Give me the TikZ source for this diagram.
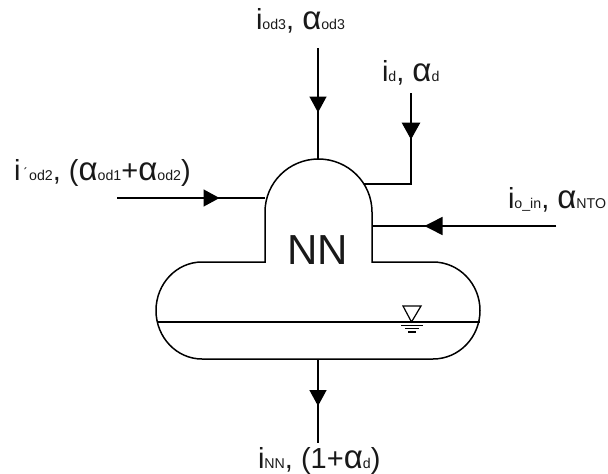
\documentclass[tikz,border=0pt]{standalone}
\usepackage{fontspec}
\setmainfont{Liberation Sans}
\usetikzlibrary{arrows.meta}
\newcommand{\bigT}[1]{{\fontsize{29}{29}\selectfont #1}}
\newcommand{\alfa}{{\fontsize{33}{33}\selectfont α}}
\newcommand{\subT}[1]{{\fontsize{14.2}{14.2}\selectfont #1}}
\tikzset{
  x=1pt,y=-1pt,
  pipe/.style={line width=1.5pt,draw=black},
  thin pipe/.style={line width=1.2pt,draw=black},
  lbl/.style={anchor=base west,inner sep=0pt,outer sep=0pt,text=black!90},
  tipV/.style={pipe,-{Triangle[length=16pt,width=17pt]}},
}
\begin{document}
\begin{tikzpicture}
\useasboundingbox (0,0) rectangle (608,474);
% vessel
\draw[pipe] (265,262) -- (265,212) arc[start angle=180,end angle=360,x radius=53.5,y radius=53] -- (372,262)
  -- (433,262) arc[start angle=270,end angle=450,x radius=47,y radius=48.5] -- (202,359)
  arc[start angle=90,end angle=270,x radius=46,y radius=48.5] -- cycle;
\coordinate (wl) at (157,322);
\coordinate (wr) at (480,322);
\draw[pipe] (wl) -- (wr);
% level symbol
\draw[thin pipe] (403,306) -- (421,306) -- (411.5,322) -- cycle;
\draw[line width=1.1pt] (401,325.5) -- (423,325.5);
\draw[line width=1.1pt] (405,328.7) -- (419,328.7);
\draw[line width=1.1pt] (408,332) -- (416,332);
% streams
\coordinate (a0) at (318,48); \coordinate (a1) at (318,112.5); \coordinate (a2) at (318,159);
\draw[pipe] (a0) -- (a2); \draw[tipV] (a0) -- (a1);
\coordinate (b0) at (411,93); \coordinate (b1) at (411,139.5); \coordinate (b2) at (411,184); \coordinate (b3) at (364,184);
\draw[pipe] (b0) -- (b2) -- (b3);
\draw[pipe,-{Triangle[length=17pt,width=18.5pt]}] (b0) -- (b1);
\coordinate (c0) at (556,226); \coordinate (c1) at (424.5,226); \coordinate (c2) at (372,226);
\draw[pipe] (c0) -- (c2);
\draw[pipe,-{Triangle[length=18pt,width=18pt]}] (c0) -- (c1);
\coordinate (d0) at (117,198); \coordinate (d1) at (219.5,198); \coordinate (d2) at (265,198);
\draw[pipe] (d0) -- (d2); \draw[tipV] (d0) -- (d1);
\coordinate (e0) at (318,359); \coordinate (e1) at (318,406); \coordinate (e2) at (318,443);
\draw[pipe] (e0) -- (e2); \draw[tipV] (e0) -- (e1);
% labels
\node[anchor=base,inner sep=0pt,text=black!90] (nn) at (318,264) {\fontsize{42}{42}\selectfont NN};
\node[lbl] (top) at (256,29) {\bigT{i}\subT{od3}\bigT{, }\alfa\subT{od3}};
\node[lbl] (left) at (14,180) {\bigT{i}\subT{\,\'{}\,od2}\bigT{, (}\alfa\subT{od1}\bigT{+}\alfa\subT{od2}\bigT{)}};
\node[lbl] (did) at (382,81) {\bigT{i}\subT{d}\bigT{, }\alfa\subT{d}};
\node[lbl] (right) at (508,208) {\bigT{i}\subT{o\_in}\bigT{, }\alfa\subT{NTO}};
\node[lbl] (bot) at (258,468) {\bigT{i}\subT{NN}\bigT{, (1+}\alfa\subT{d}\bigT{)}};
\end{tikzpicture}
\end{document}
